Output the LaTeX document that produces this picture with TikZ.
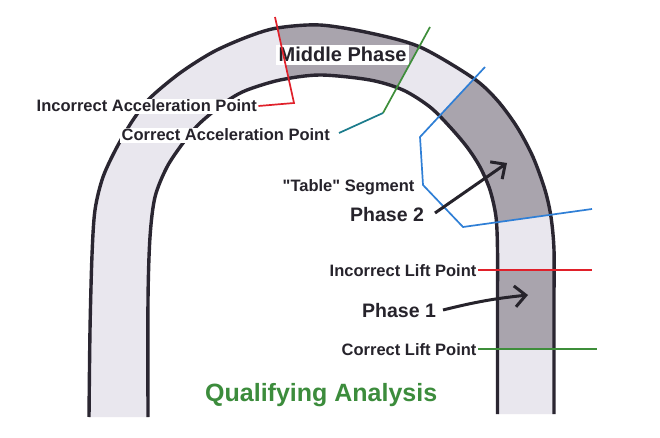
\documentclass[tikz,border=0pt]{standalone}
\usepackage{fontspec}
\setmainfont{Liberation Sans}
\usetikzlibrary{arrows.meta}
\definecolor{bandlight}{HTML}{E9E7EE}
\definecolor{banddark}{HTML}{A9A4AD}
\definecolor{archedge}{HTML}{2A2631}
\definecolor{txt}{HTML}{26232B}
\definecolor{qgreen}{HTML}{3C8C3C}
\definecolor{lred}{HTML}{E0202A}
\definecolor{lgreen}{HTML}{3E8E3A}
\definecolor{lteal}{HTML}{1C7C8C}
\definecolor{lblue}{HTML}{2F7FD6}
\begin{document}
\begin{tikzpicture}[x=1pt,y=-1pt,
  lbl/.style={font=\fontsize{16.5}{18}\selectfont\bfseries, text=txt, fill=white, inner sep=1.5pt, anchor=base west},
  phase/.style={font=\fontsize{19.5}{22}\selectfont\bfseries, text=txt, inner sep=1pt, anchor=base west},
  archline/.style={draw=archedge, line width=3.4pt},
  mark line/.style={line width=1.7pt},
  bigarrow/.style={draw=txt, line width=3pt, -{Straight Barb[length=11pt,width=21pt]}}
]
\useasboundingbox[fill=white] (0,0) rectangle (660,438);

% band (light)
\fill[bandlight] plot[smooth] coordinates {(89,417) (90,330) (92,255) (95,210) (103,177) (117,147) (133,120) (150,98) (180,73) (213,52) (247,37) (277,28) (320,25) (370,33) (420,47) (473,78) (497,100) (517,127) (533,157) (545,190) (551,217) (554,250) (554,300) (554,414)}
  -- plot[smooth] coordinates {(497.5,414) (497.5,300) (497.5,250) (496,217) (490,190) (480,167) (467,147) (450,127) (430,107) (403,90) (370,80) (320,75) (280,80) (247,90) (230,99) (214,111) (198,125) (183,143) (167,167) (155,197) (150,237) (148,300) (148,417)} -- cycle;

% dark phases, clipped to the band
\begin{scope}
\clip plot[smooth] coordinates {(89,417) (90,330) (92,255) (95,210) (103,177) (117,147) (133,120) (150,98) (180,73) (213,52) (247,37) (277,28) (320,25) (370,33) (420,47) (473,78) (497,100) (517,127) (533,157) (545,190) (551,217) (554,250) (554,300) (554,414)}
  -- plot[smooth] coordinates {(497.5,414) (497.5,300) (497.5,250) (496,217) (490,190) (480,167) (467,147) (450,127) (430,107) (403,90) (370,80) (320,75) (280,80) (247,90) (230,99) (214,111) (198,125) (183,143) (167,167) (155,197) (150,237) (148,300) (148,417)} -- cycle;
\fill[banddark] (272,5) -- (298,120) -- (379,120) -- (442,5) -- cycle;
\fill[banddark] (501,50) -- (408,150) -- (450,229) -- (600,208) -- (600,50) -- cycle;
\fill[banddark] (470,270) rectangle (600,349);
\end{scope}

% outlines
\draw[archline] plot[smooth] coordinates {(89,417) (90,330) (92,255) (95,210) (103,177) (117,147) (133,120) (150,98) (180,73) (213,52) (247,37) (277,28) (320,25) (370,33) (420,47) (473,78) (497,100) (517,127) (533,157) (545,190) (551,217) (554,250) (554,300) (554,414)};
\draw[archline] plot[smooth] coordinates {(148,417) (148,300) (150,237) (155,197) (167,167) (183,143) (198,125) (214,111) (230,99) (247,90) (280,80) (320,75) (370,80) (403,90) (430,107) (450,127) (467,147) (480,167) (490,190) (496,217) (497.5,250) (497.5,300) (497.5,414)};

% labels
\node[lbl] (iap) at (35,112) {Incorrect Acceleration Point};
\node[lbl] (cap) at (120,141) {Correct Acceleration Point};
\node[lbl, font=\fontsize{20}{22}\selectfont\bfseries, inner sep=2.5pt] (mid) at (276,62) {Middle Phase};
\node[lbl] (tab) at (281,192) {\textquotedbl Table\textquotedbl\ Segment};
\node[phase] (p2) at (349,222) {Phase 2};
\node[lbl] (ilp) at (328,276.5) {Incorrect Lift Point};
\node[phase] (p1) at (361,317) {Phase 1};
\node[lbl] (clp) at (340,355) {Correct Lift Point};
\node[phase, font=\fontsize{25}{28}\selectfont\bfseries, text=qgreen] (qa) at (204,401) {Qualifying Analysis};

% marker lines
\coordinate (r1) at (275,17); \coordinate (r2) at (294,103); \coordinate (r3) at (iap.east);
\draw[lred, mark line] (r1) -- (r2) -- ([yshift=-1pt]r3 |- 0,105);
\coordinate (g1) at (430,27); \coordinate (g2) at (383,113); \coordinate (g3) at (339,133);
\draw[lgreen, mark line] (g1) -- (g2);
\draw[lteal, mark line] (g2) -- (g3);
\coordinate (b1) at (485,67); \coordinate (b2) at (420,137); \coordinate (b3) at (423,185);
\coordinate (b4) at (463,227); \coordinate (b5) at (592,209);
\draw[lblue, mark line] (b1) -- (b2) -- (b3) -- (b4) -- (b5);
\coordinate (ilpe) at (592,270);
\draw[lred, mark line] (ilp.east |- ilpe) -- (ilpe);
\coordinate (clpe) at (597,349);
\draw[lgreen, mark line] (clp.east |- clpe) -- (clpe);

% arrows
\coordinate (p2s) at (435,213); \coordinate (p2e) at (507,163);
\draw[bigarrow] (p2s) -- (p2e);
\coordinate (p1s) at (443,310); \coordinate (p1e) at (528,295);
\draw[bigarrow] (p1s) to[bend left=4] (p1e);
\end{tikzpicture}
\end{document}
